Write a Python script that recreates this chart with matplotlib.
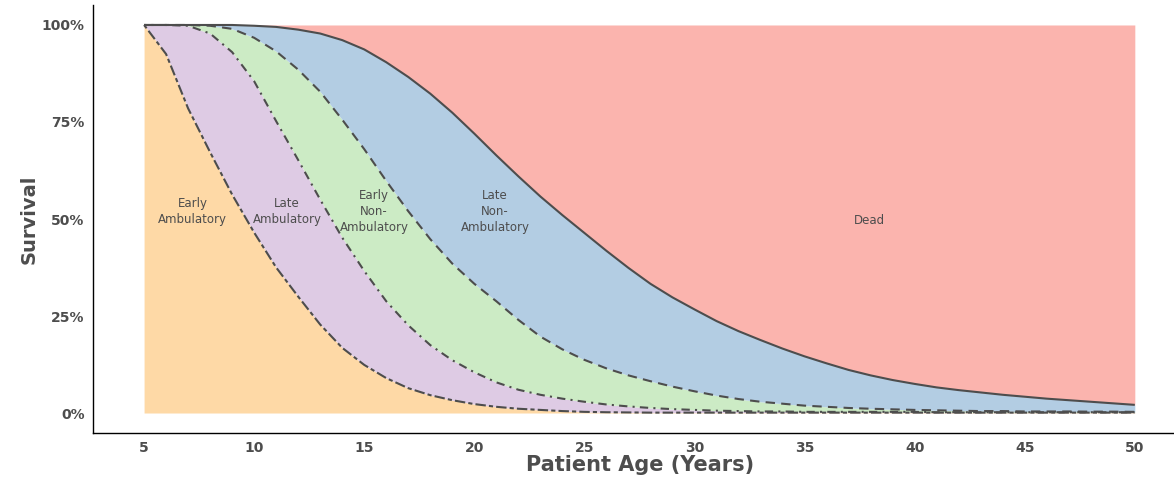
import matplotlib
matplotlib.use("Agg")
import matplotlib.pyplot as plt
from matplotlib.ticker import FuncFormatter

# survival curves, one value per year of age
ages = list(range(5, 51))

early_amb = [1.0, 0.925, 0.785, 0.672, 0.563, 0.465, 0.375, 0.30, 0.228, 0.168,
             0.124, 0.09, 0.064, 0.046, 0.033, 0.023, 0.016, 0.011, 0.008, 0.005,
             0.003, 0.002, 0.0015, 0.001, 0.001, 0.001, 0.001, 0.001, 0.001, 0.001,
             0.001, 0.001, 0.001, 0.001, 0.001, 0.001, 0.001, 0.001, 0.001, 0.001,
             0.001, 0.001, 0.001, 0.001, 0.001, 0.001]

late_amb = [1.0, 1.0, 0.998, 0.978, 0.93, 0.855, 0.752, 0.652, 0.55, 0.452,
            0.366, 0.288, 0.226, 0.175, 0.136, 0.105, 0.079, 0.06, 0.047, 0.037,
            0.029, 0.022, 0.017, 0.013, 0.01, 0.008, 0.006, 0.005, 0.004, 0.004,
            0.003, 0.003, 0.003, 0.003, 0.003, 0.003, 0.002, 0.002, 0.002, 0.002,
            0.002, 0.002, 0.002, 0.002, 0.002, 0.002]

early_non_amb = [1.0, 1.0, 1.0, 0.998, 0.99, 0.967, 0.932, 0.885, 0.828, 0.756,
                 0.68, 0.598, 0.52, 0.448, 0.385, 0.333, 0.288, 0.24, 0.197, 0.164,
                 0.137, 0.115, 0.097, 0.082, 0.068, 0.056, 0.045, 0.036, 0.029, 0.024,
                 0.019, 0.016, 0.013, 0.011, 0.0095, 0.008, 0.007, 0.006, 0.005, 0.005,
                 0.004, 0.004, 0.004, 0.0035, 0.0035, 0.003]

late_non_amb = [1.0, 1.0, 1.0, 1.0, 1.0, 0.998, 0.995, 0.988, 0.978, 0.961,
                0.937, 0.904, 0.866, 0.823, 0.774, 0.72, 0.664, 0.61, 0.558, 0.51,
                0.464, 0.418, 0.374, 0.333, 0.298, 0.267, 0.237, 0.211, 0.188, 0.166,
                0.146, 0.128, 0.111, 0.097, 0.085, 0.075, 0.066, 0.059, 0.053, 0.047,
                0.042, 0.037, 0.033, 0.029, 0.025, 0.021]

states = ["Early\nAmbulatory", "Late\nAmbulatory", "Early\nNon-\nAmbulatory",
          "Late\nNon-\nAmbulatory", "Dead"]
label_x = [7.2, 11.5, 15.45, 20.95, 37.95]
label_y = [0.52, 0.52, 0.52, 0.52, 0.495]

colors = ["#FED9A6", "#DECBE4", "#CCEBC5", "#B3CDE3", "#FBB4AE"]
line_col = "#4d4d4d"
text_col = "#4d4d4d"

plt.rcParams["font.family"] = ["DejaVu Sans"]

fig = plt.figure(figsize=(11.74, 4.82), dpi=100)
ax = fig.add_axes([93 / 1174, 49 / 482, 1081 / 1174, 428 / 482])

curves = [early_amb, late_amb, early_non_amb, late_non_amb]
lower = [0.0] * len(ages)
for col, upper in zip(colors, curves + [[1.0] * len(ages)]):
    ax.fill_between(ages, lower, upper, color=col, lw=0)
    lower = upper

styles = [(0, (2, 1.5, 5, 1.5)), (0, (1, 2.5, 4, 2.5)), (0, (4.5, 3)), "-"]
for c, ls in zip(curves, styles):
    ax.plot(ages, c, color=line_col, lw=1.5, ls=ls, solid_capstyle="butt")

for s, x, y in zip(states, label_x, label_y):
    ax.text(x, y, s, ha="center", va="center", fontsize=8.5, color=text_col,
            linespacing=1.3)

ax.set_xlim(2.68, 51.78)
ax.set_ylim(-0.0515, 1.0515)
ax.set_xticks(range(5, 51, 5))
ax.set_yticks([0, 0.25, 0.5, 0.75, 1.0])
ax.yaxis.set_major_formatter(FuncFormatter(lambda v, p: f"{int(round(v * 100))}%"))
ax.tick_params(length=0, labelsize=10, labelcolor=text_col, pad=6)
for lab in ax.get_xticklabels() + ax.get_yticklabels():
    lab.set_fontweight("bold")

for side in ["top", "right"]:
    ax.spines[side].set_visible(False)
for side in ["left", "bottom"]:
    ax.spines[side].set_color("black")
    ax.spines[side].set_linewidth(1.0)

ax.set_xlabel("Patient Age (Years)", fontsize=15, fontweight="bold", color=text_col)
ax.set_ylabel("Survival", fontsize=14, fontweight="bold", color=text_col)
ax.xaxis.set_label_coords(0.506, -0.052)
ax.yaxis.set_label_coords(-0.05, 0.5)

fig.savefig("out.png", dpi=100)
